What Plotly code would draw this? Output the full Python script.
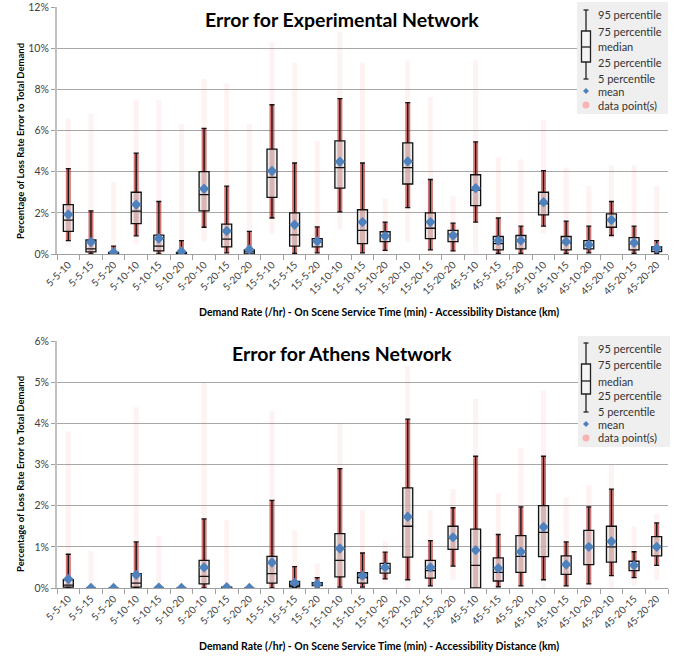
import plotly.graph_objects as go
from plotly.subplots import make_subplots

# ---------------------------------------------------------------- data
categories = ["5-5-10", "5-5-15", "5-5-20", "5-10-10", "5-10-15", "5-10-20",
              "5-20-10", "5-20-15", "5-20-20", "15-5-10", "15-5-15", "15-5-20",
              "15-10-10", "15-10-15", "15-10-20", "15-20-10", "15-20-15", "15-20-20",
              "45-5-10", "45-5-15", "45-5-20", "45-10-10", "45-10-15", "45-10-20",
              "45-20-10", "45-20-15", "45-20-20"]

# Experimental network (percent)
exp_p95 = [4.15, 2.1, 0.38, 4.9, 2.55, 0.65, 6.1, 3.3, 1.1, 7.25, 4.42, 1.32, 7.55, 4.42,
           1.55, 7.35, 3.62, 1.5, 5.45, 1.75, 1.35, 4.05, 1.6, 1.35, 2.55, 1.35, 0.65]
exp_q3 = [2.4, 0.68, 0.08, 3.0, 0.92, 0.06, 4.0, 1.45, 0.2, 5.1, 2.0, 0.75, 5.5, 2.15,
          1.08, 5.4, 2.0, 1.15, 3.85, 0.85, 0.9, 3.0, 0.85, 0.65, 1.95, 0.8, 0.35]
exp_median = [1.65, 0.25, 0.03, 2.08, 0.38, 0.03, 2.88, 0.72, 0.1, 3.72, 0.93, 0.6, 4.2, 1.15,
              0.9, 4.2, 1.25, 0.95, 3.1, 0.5, 0.65, 2.45, 0.55, 0.45, 1.65, 0.5, 0.25]
exp_q1 = [1.1, 0.1, 0.0, 1.48, 0.15, 0.0, 2.1, 0.35, 0.0, 2.75, 0.38, 0.35, 3.2, 0.5,
          0.6, 3.4, 0.75, 0.6, 2.35, 0.2, 0.25, 1.9, 0.2, 0.25, 1.3, 0.2, 0.12]
exp_p5 = [0.65, 0.0, 0.0, 0.88, 0.0, 0.0, 1.3, 0.05, 0.0, 1.75, 0.03, 0.05, 2.05, 0.05,
          0.18, 2.25, 0.2, 0.15, 1.55, 0.03, 0.03, 1.35, 0.03, 0.05, 0.9, 0.03, 0.03]
exp_mean = [1.92, 0.58, 0.08, 2.4, 0.75, 0.12, 3.17, 1.12, 0.22, 4.03, 1.42, 0.62, 4.48, 1.55,
            0.87, 4.5, 1.55, 0.9, 3.2, 0.65, 0.65, 2.52, 0.6, 0.45, 1.65, 0.55, 0.28]
exp_min = [0.4, 0.0, 0.0, 0.5, 0.0, 0.0, 0.6, 0.0, 0.0, 1.0, 0.0, 0.0, 1.2, 0.0,
           0.0, 0.6, 0.0, 0.0, 0.0, 0.0, 0.0, 1.0, 0.0, 0.0, 0.7, 0.0, 0.0]
exp_max = [6.6, 6.8, 3.5, 7.5, 7.5, 6.3, 8.5, 8.3, 6.3, 10.3, 9.3, 5.5, 10.8, 9.3,
           2.7, 9.4, 7.6, 2.8, 9.4, 4.7, 4.6, 6.5, 4.2, 3.3, 4.3, 4.3, 3.3]

# Athens network (percent)
ath_p95 = [0.82, 0.01, 0.0, 1.12, 0.02, 0.0, 1.68, 0.05, 0.0, 2.13, 0.52, 0.25, 2.9, 0.85,
           0.87, 4.1, 1.15, 1.95, 3.2, 1.3, 1.97, 3.2, 1.12, 1.97, 2.4, 0.88, 1.58]
ath_q3 = [0.2, 0.0, 0.0, 0.35, 0.0, 0.0, 0.67, 0.02, 0.0, 0.77, 0.16, 0.13, 1.32, 0.37,
          0.6, 2.43, 0.67, 1.5, 1.43, 0.73, 1.27, 2.0, 0.78, 1.4, 1.5, 0.65, 1.25]
ath_median = [0.07, 0.0, 0.0, 0.12, 0.0, 0.0, 0.28, 0.0, 0.0, 0.35, 0.07, 0.1, 0.67, 0.25,
              0.48, 1.5, 0.42, 1.22, 0.55, 0.38, 0.77, 1.35, 0.57, 1.0, 1.0, 0.55, 1.0]
ath_q1 = [0.02, 0.0, 0.0, 0.02, 0.0, 0.0, 0.1, 0.0, 0.0, 0.12, 0.03, 0.06, 0.27, 0.12,
          0.36, 0.75, 0.24, 0.94, 0.0, 0.17, 0.38, 0.76, 0.33, 0.57, 0.63, 0.42, 0.78]
ath_p5 = [0.0, 0.0, 0.0, 0.0, 0.0, 0.0, 0.0, 0.0, 0.0, 0.0, 0.0, 0.02, 0.02, 0.02,
          0.22, 0.2, 0.05, 0.53, 0.0, 0.03, 0.05, 0.2, 0.05, 0.1, 0.3, 0.25, 0.55]
ath_mean = [0.22, 0.0, 0.0, 0.32, 0.01, 0.0, 0.5, 0.02, 0.0, 0.62, 0.13, 0.1, 0.96, 0.3,
            0.5, 1.73, 0.5, 1.23, 0.92, 0.48, 0.88, 1.48, 0.57, 1.0, 1.13, 0.55, 1.0]
ath_min = [0.0, 0.0, 0.0, 0.0, 0.0, 0.0, 0.0, 0.0, 0.0, 0.0, 0.0, 0.0, 0.0, 0.0,
           0.1, 0.0, 0.0, 0.2, 0.0, 0.0, 0.0, 0.0, 0.0, 0.0, 0.0, 0.05, 0.2]
ath_max = [3.8, 0.9, 0.05, 4.4, 1.25, 0.05, 5.0, 1.65, 0.05, 4.3, 1.4, 0.6, 4.0, 1.9,
           1.15, 5.4, 1.9, 2.4, 4.6, 2.3, 3.4, 4.8, 2.2, 2.5, 3.0, 1.5, 1.8]

titles = ["Error for Experimental Network", "Error for Athens Network"]
x_title = "Demand Rate (/hr) - On Scene Service Time (min) - Accessibility Distance (km)"
y_title = "Percentage of Loss Rate Error to Total Demand"
legend_labels = ["95 percentile", "75 percentile", "median", "25 percentile",
                 "5 percentile", "mean", "data point(s)"]

# ---------------------------------------------------------------- figure
W, H = 683, 656
ML, MR, MT, MB = 57, 15, 7, 68
PW, PH = W - ML - MR, H - MT - MB


def px_x(x):
    return (x - ML) / PW


def px_y(y):
    return (H - MB - y) / PH


FONT = "Lato"
TEXT = "#404040"

fig = make_subplots(rows=2, cols=1, vertical_spacing=0.1502)
fig.update_yaxes(domain=[px_y(254), 1.0], row=1, col=1)
fig.update_yaxes(domain=[0.0, px_y(341)], row=2, col=1)

panels = [
    dict(p95=exp_p95, q3=exp_q3, med=exp_median, q1=exp_q1, p5=exp_p5, mean=exp_mean,
         lo=exp_min, hi=exp_max, ymax=12, dtick=2),
    dict(p95=ath_p95, q3=ath_q3, med=ath_median, q1=ath_q1, p5=ath_p5, mean=ath_mean,
         lo=ath_min, hi=ath_max, ymax=6, dtick=1),
]

for i, p in enumerate(panels, start=1):
    # sparse spread of the individual runs
    fig.add_trace(go.Bar(
        x=categories, base=p["lo"], y=[h - l for h, l in zip(p["hi"], p["lo"])],
        width=0.22, marker=dict(color="rgba(230,80,80,0.07)", line=dict(width=0)),
        name="data point(s)", showlegend=False, hoverinfo="skip"), row=i, col=1)
    # dense core of the runs (5th to 95th percentile)
    fig.add_trace(go.Bar(
        x=categories, base=p["p5"], y=[h - l for h, l in zip(p["p95"], p["p5"])],
        width=0.22, marker=dict(color="rgba(180,10,10,0.55)", line=dict(width=0)),
        name="data point(s)", showlegend=False, hoverinfo="skip"), row=i, col=1)
    fig.add_trace(go.Box(
        x=categories, q1=p["q1"], median=p["med"], q3=p["q3"],
        lowerfence=p["p5"], upperfence=p["p95"], boxpoints=False,
        width=0.44, whiskerwidth=0.5,
        fillcolor="rgba(222,222,222,0.6)", line=dict(color="#111111", width=1.3),
        showlegend=False), row=i, col=1)
    fig.add_trace(go.Scatter(
        x=categories, y=p["mean"], mode="markers", name="mean",
        marker=dict(symbol="diamond", size=8, color="#4f81bd", line=dict(width=0)),
        showlegend=False), row=i, col=1)

    fig.update_xaxes(
        type="category", range=[-0.5, len(categories) - 0.5], tickson="boundaries",
        ticks="outside", ticklen=5, tickcolor="#a0a0a0", tickangle=-45,
        showline=True, linecolor="#a0a0a0", linewidth=1, showgrid=False, automargin=False,
        tickfont=dict(family=FONT, size=10, color=TEXT), row=i, col=1)
    fig.update_yaxes(
        range=[0, p["ymax"]], dtick=p["dtick"], ticksuffix="%", showgrid=True,
        gridcolor="#a8a8a8", gridwidth=1, zeroline=False, showline=True, automargin=False,
        linecolor="#c0c0c0", linewidth=2, ticks="outside", ticklen=4, tickcolor="#a0a0a0",
        tickfont=dict(family=FONT, size=10.5, color=TEXT), row=i, col=1)

fig.update_layout(
    width=W, height=H, margin=dict(l=ML, r=MR, t=MT, b=MB, autoexpand=False),
    paper_bgcolor="white", plot_bgcolor="white", barmode="overlay",
    showlegend=False, font=dict(family=FONT, color=TEXT),
)

annotations = []
shapes = []

# titles and axis titles
for title, ty, xt_y, yt_y in [(titles[0], 20, 312, 141), (titles[1], 353, 646, 474)]:
    annotations.append(dict(text=f"<b>{title}</b>", x=px_x(342), y=px_y(ty), xref="paper",
                            yref="paper", showarrow=False, xanchor="center", yanchor="middle",
                            font=dict(family=FONT, size=19.5, color="black")))
    annotations.append(dict(text=f"<b>{x_title}</b>", x=px_x(379), y=px_y(xt_y), xref="paper",
                            yref="paper", showarrow=False, xanchor="center", yanchor="middle",
                            font=dict(family=FONT, size=10.5, color="black")))
    annotations.append(dict(text=f"<b>{y_title}</b>", x=px_x(20), y=px_y(yt_y), xref="paper",
                            yref="paper", showarrow=False, xanchor="center", yanchor="middle",
                            textangle=-90, font=dict(family=FONT, size=9.5, color="black")))

# hand-built key explaining the box glyph
legends = [
    dict(bg=(577, 668, 2, 114), wt=10, bt=31, md=47, bb=62, wb=79,
         ly=[14, 31, 47, 62, 78, 91, 105]),
    dict(bg=(578, 670, 336, 447), wt=343, bt=364, md=381, bb=394, wb=412,
         ly=[348, 364, 381, 395, 411, 424, 438]),
]
gx = 586
for lg in legends:
    x0, x1, y0, y1 = lg["bg"]
    shapes.append(dict(type="rect", xref="paper", yref="paper", x0=px_x(x0), x1=px_x(x1),
                       y0=px_y(y1), y1=px_y(y0), fillcolor="#efefef", line=dict(width=0)))
    line = dict(color="#222222", width=1.3)
    shapes.append(dict(type="line", xref="paper", yref="paper", x0=px_x(gx), x1=px_x(gx),
                       y0=px_y(lg["wb"]), y1=px_y(lg["wt"]), line=line))
    for yy in (lg["wt"], lg["wb"]):
        shapes.append(dict(type="line", xref="paper", yref="paper", x0=px_x(gx - 2.5),
                           x1=px_x(gx + 2.5), y0=px_y(yy), y1=px_y(yy), line=line))
    shapes.append(dict(type="rect", xref="paper", yref="paper", x0=px_x(gx - 4.5),
                       x1=px_x(gx + 4.5), y0=px_y(lg["bb"]), y1=px_y(lg["bt"]),
                       fillcolor="#f4f4f4", line=line))
    shapes.append(dict(type="line", xref="paper", yref="paper", x0=px_x(gx - 4.5),
                       x1=px_x(gx + 4.5), y0=px_y(lg["md"]), y1=px_y(lg["md"]), line=line))
    my = lg["ly"][5]
    d = 3
    shapes.append(dict(
        type="path", xref="paper", yref="paper",
        path=(f"M {px_x(gx)} {px_y(my - d)} L {px_x(gx + d)} {px_y(my)} "
              f"L {px_x(gx)} {px_y(my + d)} L {px_x(gx - d)} {px_y(my)} Z"),
        fillcolor="#4f81bd", line=dict(width=0)))
    dy = lg["ly"][6]
    shapes.append(dict(type="circle", xref="paper", yref="paper", x0=px_x(gx - 3.5),
                       x1=px_x(gx + 3.5), y0=px_y(dy + 3.5), y1=px_y(dy - 3.5),
                       fillcolor="#f8b4b4", line=dict(width=0)))
    for label, yy in zip(legend_labels, lg["ly"]):
        annotations.append(dict(text=label, x=px_x(596), y=px_y(yy), xref="paper",
                                yref="paper", showarrow=False, xanchor="left",
                                yanchor="middle",
                                font=dict(family=FONT, size=11, color="#333333")))

fig.update_layout(annotations=annotations, shapes=shapes)
fig.write_html("out.html")
